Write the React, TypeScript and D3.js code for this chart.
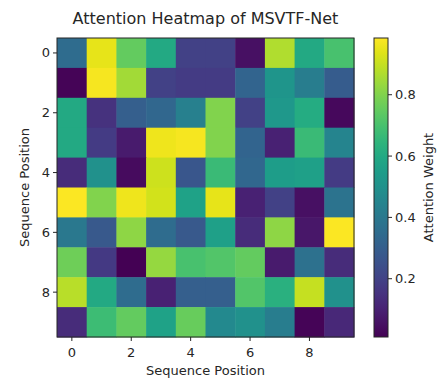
import React from 'react';
import * as d3 from 'd3';

// attention weights, row = query position, col = key position
const positions = [0, 1, 2, 3, 4, 5, 6, 7, 8, 9];
const attention = [
  [0.35, 0.95, 0.75, 0.60, 0.20, 0.20, 0.05, 0.87, 0.60, 0.70],
  [0.02, 0.97, 0.85, 0.20, 0.18, 0.18, 0.32, 0.52, 0.42, 0.29],
  [0.60, 0.15, 0.30, 0.33, 0.43, 0.80, 0.20, 0.53, 0.61, 0.03],
  [0.60, 0.18, 0.08, 0.96, 0.97, 0.80, 0.32, 0.10, 0.67, 0.45],
  [0.13, 0.50, 0.04, 0.91, 0.27, 0.67, 0.33, 0.55, 0.56, 0.18],
  [0.98, 0.80, 0.96, 0.92, 0.57, 0.95, 0.10, 0.20, 0.05, 0.38],
  [0.40, 0.28, 0.82, 0.35, 0.28, 0.56, 0.13, 0.82, 0.07, 0.98],
  [0.77, 0.17, 0.01, 0.83, 0.70, 0.72, 0.75, 0.08, 0.37, 0.13],
  [0.88, 0.60, 0.35, 0.10, 0.30, 0.30, 0.72, 0.63, 0.90, 0.50],
  [0.13, 0.68, 0.75, 0.57, 0.76, 0.47, 0.50, 0.42, 0.02, 0.12],
];
const axisTicks = [0, 2, 4, 6, 8];
const colorbarTicks = [0.2, 0.4, 0.6, 0.8];
const vmin = 0.01;
const vmax = 0.985;

const W = 438;
const H = 379;
const plot = { left: 57, top: 38, right: 354, bottom: 337 };
const cbar = { left: 374, right: 388, top: 38, bottom: 337 };
const font = 'DejaVu Sans, sans-serif';
const ink = '#262626';

export default function App() {
  const x = d3.scaleBand<number>().domain(positions).range([plot.left, plot.right]);
  const y = d3.scaleBand<number>().domain(positions).range([plot.top, plot.bottom]);
  const color = d3.scaleSequential(d3.interpolateViridis).domain([vmin, vmax]);
  const cy = d3.scaleLinear().domain([vmin, vmax]).range([cbar.bottom, cbar.top]);

  const stops = d3.range(0, 1.0001, 0.05);
  const plotMidX = (plot.left + plot.right) / 2;
  const plotMidY = (plot.top + plot.bottom) / 2;

  return (
    <div style={{ position: 'absolute', left: 0, top: 0 }}>
      <svg width={W} height={H} viewBox={`0 0 ${W} ${H}`} style={{ display: 'block', background: '#fff' }}>
        <defs>
          <linearGradient id="viridis" x1="0" y1="1" x2="0" y2="0">
            {stops.map((t, i) => (
              <stop key={i} offset={t} stopColor={d3.interpolateViridis(t)} />
            ))}
          </linearGradient>
        </defs>

        <text x={plotMidX} y={24} textAnchor="middle" fontFamily={font} fontSize={16} fill={ink}>
          Attention Heatmap of MSVTF-Net
        </text>

        {attention.map((row, r) =>
          row.map((v, c) => (
            <rect
              key={`${r}-${c}`}
              x={x(c)}
              y={y(r)}
              width={x.bandwidth() + 0.5}
              height={y.bandwidth() + 0.5}
              fill={color(v)}
            />
          ))
        )}
        <rect
          x={plot.left}
          y={plot.top}
          width={plot.right - plot.left}
          height={plot.bottom - plot.top}
          fill="none"
          stroke={ink}
          strokeWidth={1}
        />

        {axisTicks.map(t => {
          const px = (x(t) as number) + x.bandwidth() / 2;
          const py = (y(t) as number) + y.bandwidth() / 2;
          return (
            <g key={t}>
              <line x1={px} x2={px} y1={plot.bottom} y2={plot.bottom + 4} stroke={ink} />
              <text x={px} y={357} textAnchor="middle" fontFamily={font} fontSize={13} fill={ink}>
                {t}
              </text>
              <line x1={plot.left - 4} x2={plot.left} y1={py} y2={py} stroke={ink} />
              <text x={plot.left - 7} y={py + 4.5} textAnchor="end" fontFamily={font} fontSize={13} fill={ink}>
                {t}
              </text>
            </g>
          );
        })}

        <text x={plotMidX} y={375} textAnchor="middle" fontFamily={font} fontSize={13} fill={ink}>
          Sequence Position
        </text>
        <text
          transform={`translate(${29},${plotMidY}) rotate(-90)`}
          textAnchor="middle"
          fontFamily={font}
          fontSize={13}
          fill={ink}
        >
          Sequence Position
        </text>

        <rect
          x={cbar.left}
          y={cbar.top}
          width={cbar.right - cbar.left}
          height={cbar.bottom - cbar.top}
          fill="url(#viridis)"
          stroke={ink}
          strokeWidth={1}
        />
        {colorbarTicks.map(t => (
          <g key={t}>
            <line x1={cbar.right} x2={cbar.right + 4} y1={cy(t)} y2={cy(t)} stroke={ink} />
            <text x={cbar.right + 7} y={cy(t) + 4.5} fontFamily={font} fontSize={13} fill={ink}>
              {t.toFixed(1)}
            </text>
          </g>
        ))}
        <text
          transform={`translate(${433},${(cbar.top + cbar.bottom) / 2}) rotate(-90)`}
          textAnchor="middle"
          fontFamily={font}
          fontSize={13}
          fill={ink}
        >
          Attention Weight
        </text>
      </svg>
    </div>
  );
}
